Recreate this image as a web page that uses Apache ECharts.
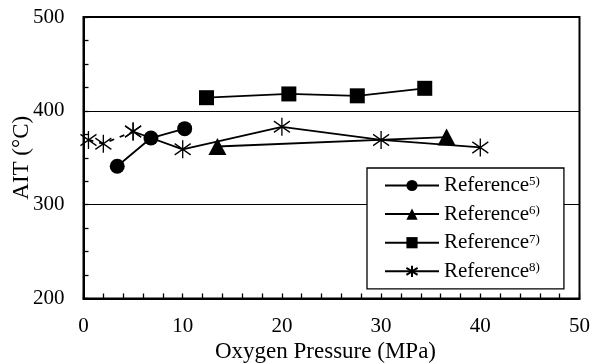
<!DOCTYPE html>
<html>
<head>
<meta charset="utf-8">
<script src="https://cdn.jsdelivr.net/npm/echarts@6/dist/echarts.min.js"></script>
<style>
  html, body { margin: 0; padding: 0; background: #fff; }
  #chart { width: 592px; height: 363px; }
</style>
</head>
<body>
<div id="chart"></div>
<script>
// Auto-ignition temperature versus oxygen pressure, four literature sources.
const ref5X = [3.4, 6.8, 10.2];
const ref5Y = [341, 371, 381];

const ref6X = [13.5, 36.6];
const ref6Y = [362, 372];

const ref7X = [12.4, 20.7, 27.6, 34.4];
const ref7Y = [414, 418, 416, 424];

const ref8X = [0.5, 2, 5, 10, 20, 30, 40];
const ref8Y = [369, 365, 378, 359, 383, 369, 361];
// the low-pressure points of Reference 8 are joined with a dashed line
const ref8DashedCount = 3;

const seriesNames = ['Reference5)', 'Reference6)', 'Reference7)', 'Reference8)'];

const xTicks = { min: 0, max: 50, interval: 10 };
const yTicks = { min: 200, max: 500, interval: 100 };

const FONT = 'Liberation Serif';
const ASTERISK = 'path://M7,0L7,16M0,3L14,13M0,13L14,3';

const pairs = (xs, ys) => xs.map((x, i) => [x, ys[i]]);

const baseLine = { color: '#000', width: 1.8 };

const chart = echarts.init(document.getElementById('chart'), null, { renderer: 'canvas' });

chart.setOption({
  animation: false,
  backgroundColor: '#fff',
  grid: {
    left: 83.5, right: 12.5, top: 17, bottom: 64.5,
    outerBoundsMode: 'none',
    containLabel: false,
    show: true, borderColor: '#000', borderWidth: 2, backgroundColor: 'transparent'
  },
  xAxis: {
    type: 'value',
    min: xTicks.min, max: xTicks.max, interval: xTicks.interval,
    name: 'Oxygen Pressure (MPa)',
    nameLocation: 'middle', nameGap: 42, nameMoveOverlap: false,
    nameTextStyle: { fontFamily: FONT, fontSize: 23, color: '#000', padding: [0, 12, 0, 0] },
    axisLine: { show: true, onZero: false, lineStyle: { color: '#000', width: 2 } },
    axisTick: { show: true, inside: true, length: 5, lineStyle: { color: '#000', width: 1.3 } },
    minorTick: { show: true, splitNumber: 5, length: 5, lineStyle: { color: '#000', width: 1.3 } },
    axisLabel: { fontFamily: FONT, fontSize: 21, color: '#000', margin: 17 },
    splitLine: { show: false }
  },
  yAxis: {
    type: 'value',
    min: yTicks.min, max: yTicks.max, interval: yTicks.interval,
    name: 'AIT (°C)',
    nameLocation: 'middle', nameGap: 50, nameMoveOverlap: false,
    nameTextStyle: { fontFamily: FONT, fontSize: 23, color: '#000' },
    axisLine: { show: true, lineStyle: { color: '#000', width: 2 } },
    axisTick: { show: true, inside: true, length: 5, lineStyle: { color: '#000', width: 1.3 } },
    minorTick: { show: true, splitNumber: 4, length: 5, lineStyle: { color: '#000', width: 1.3 } },
    axisLabel: { fontFamily: FONT, fontSize: 21, color: '#000', margin: 19 },
    splitLine: { show: true, lineStyle: { color: '#000', width: 1.2 } }
  },
  legend: {
    data: seriesNames,
    orient: 'vertical',
    left: 367, top: 168,
    padding: [7, 24, 7, 17],
    itemGap: 7.6,
    itemWidth: 54, itemHeight: 14,
    backgroundColor: '#fff',
    borderColor: '#000', borderWidth: 1.3,
    formatter: name => name.replace(/(\d\))$/, '{s|$1}'),
    textStyle: {
      fontFamily: FONT, fontSize: 21, color: '#000', lineHeight: 20,
      rich: { s: { fontFamily: FONT, fontSize: 13, lineHeight: 12, verticalAlign: 'top', color: '#000' } }
    }
  },
  series: [
    {
      name: 'Reference8)', type: 'line',
      data: pairs(ref8X, ref8Y).slice(ref8DashedCount - 1),
      symbol: ASTERISK, symbolSize: [16, 18],
      itemStyle: { color: '#000', borderColor: '#000', borderWidth: 1.4 },
      lineStyle: baseLine, z: 2
    },
    {
      name: 'Reference8-lead', type: 'line',
      data: pairs(ref8X, ref8Y).slice(0, ref8DashedCount),
      symbol: ASTERISK, symbolSize: [16, 18],
      itemStyle: { color: '#000', borderColor: '#000', borderWidth: 1.4 },
      lineStyle: { color: '#000', width: 1.8, type: [5, 6] }, z: 2
    },
    {
      name: 'Reference7)', type: 'line',
      data: pairs(ref7X, ref7Y),
      symbol: 'rect', symbolSize: 15,
      itemStyle: { color: '#000' },
      lineStyle: baseLine, z: 3
    },
    {
      name: 'Reference6)', type: 'line',
      data: pairs(ref6X, ref6Y),
      symbol: 'triangle', symbolSize: [18, 17],
      itemStyle: { color: '#000' },
      lineStyle: baseLine, z: 3
    },
    {
      name: 'Reference5)', type: 'line',
      data: pairs(ref5X, ref5Y),
      symbol: 'circle', symbolSize: 15,
      itemStyle: { color: '#000' },
      lineStyle: baseLine, z: 4
    }
  ]
});
</script>
</body>
</html>
